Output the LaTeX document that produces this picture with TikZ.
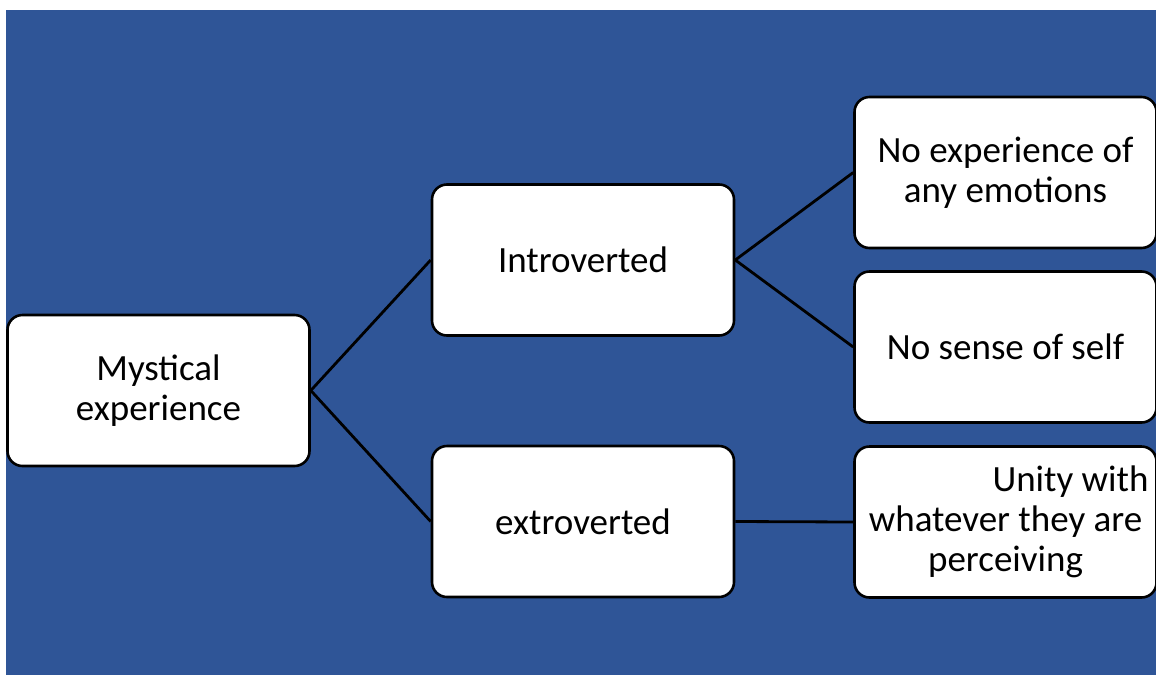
\documentclass[tikz,border=0pt]{standalone}
\usepackage{fontspec}
\setmainfont{Carlito}
\definecolor{panel}{RGB}{47,85,151}
\tikzset{
  box/.style={draw=black, fill=white, line width=2.6pt, rounded corners=15pt,
    minimum width=302pt, minimum height=151pt, inner sep=0pt, align=center,
    font=\fontsize{37}{40}\selectfont},
  link/.style={draw=black, line width=2.8pt}
}
\begin{document}
\begin{tikzpicture}[x=1pt,y=-1pt]
  \useasboundingbox (0,0) rectangle (1156,675);
  \fill[white] (0,0) rectangle (1156,675);
  \fill[panel] (6,10) rectangle (1156,675);
  \begin{scope}
    \clip (0,0) rectangle (1156,675);
    \node[box] (mys) at (158.5,390.5) {Mystical\\experience};
    \node[box] (intro) at (583,260) {Introverted};
    \node[box] (extro) at (583,521.5) {extroverted};
    \node[box] (noemo) at (1005.5,172.5) {No experience of\\any emotions};
    \node[box] (noself) at (1005.5,347) {No sense of self};
    \node[box] (unity) at (1005.5,522) {\hspace*{130pt}Unity with\\whatever they are\\perceiving};
    \draw[link] (mys.east) -- (intro.west);
    \draw[link] (mys.east) -- (extro.west);
    \draw[link] (intro.east) -- (noemo.west);
    \draw[link] (intro.east) -- (noself.west);
    \draw[link] (extro.east) -- (unity.west);
  \end{scope}
\end{tikzpicture}
\end{document}
